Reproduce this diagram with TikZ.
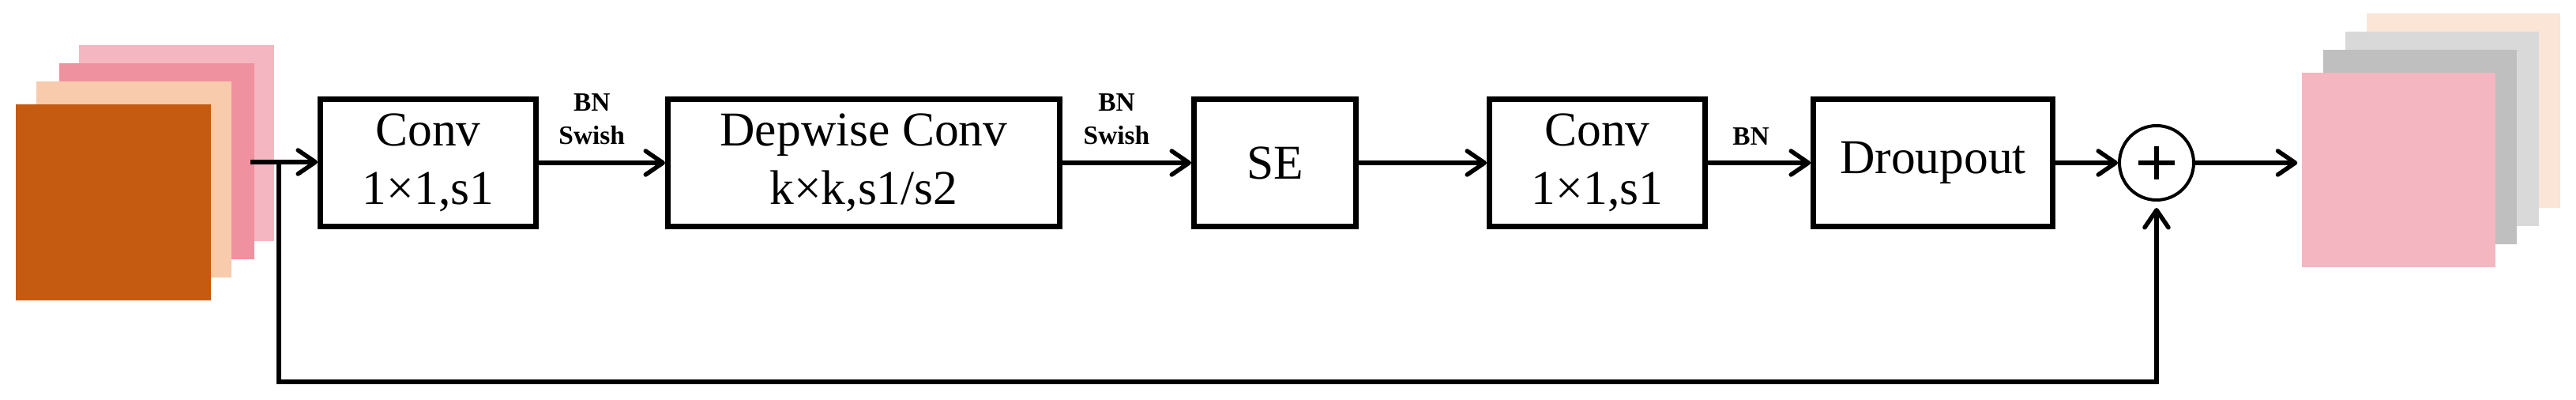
\documentclass[tikz,border=0pt]{standalone}
\usepackage{fontspec}
\setmainfont{Liberation Serif}
\usetikzlibrary{positioning, calc, arrows.meta, shapes}
\definecolor{rust}{HTML}{C55A11}
\definecolor{peach}{HTML}{F8CBAD}
\definecolor{rosemid}{HTML}{F0919F}
\definecolor{roselight}{HTML}{F4B6C0}
\definecolor{greymid}{HTML}{BFBFBF}
\definecolor{greylight}{HTML}{D9D9D9}
\definecolor{peachlight}{HTML}{FBE5D6}
\tikzset{blk/.style={draw, line width=0.07cm, outer sep=0.035cm, minimum height=1.61cm, align=center, font=\fontsize{17.5}{21}\selectfont}}
\tikzset{card/.style={fill=#1, inner sep=0, minimum width=2.47cm, minimum height=2.48cm}}
\tikzset{arr/.style={draw, line width=0.055cm, -{Straight Barb[length=0.22cm, width=0.3cm, round]}}}
\tikzset{lbl/.style={font=\fontsize{9.5}{12}\selectfont\bfseries, align=center, inner sep=0, above=0.2cm, pos=0.42}}

\begin{document}
\begin{tikzpicture}
				\useasboundingbox (0,0) rectangle (32.61,-5.06);
				% input maps
				\node[card=roselight] (in4) at (2.235,-1.81) {};
				\node[card=rosemid] (in3) at (1.985,-2.04) {};
				\node[card=peach] (in2) at (1.695,-2.27) {};
				\node[card=rust] (in1) at (1.435,-2.56) {};
				%
				\node[blk, minimum width=2.73cm] (conv1) at (5.42,-2.06) {Conv\\1×1,s1};
				\node[blk, minimum width=4.96cm, right=1.6 of conv1] (dw) {Depwise Conv\\k×k,s1/s2};
				\node[blk, minimum width=2.05cm, right=1.63 of dw] (se) {SE};
				\node[blk, minimum width=2.73cm, right=1.62 of se] (conv2) {Conv\\1×1,s1};
				\node[blk, minimum width=3.03cm, right=1.3 of conv2] (drop) {Droupout};
				\node[circle, draw, line width=0.04cm, outer sep=0.02cm, minimum size=0.94cm, right=0.79 of drop] (plus) {};
				\draw[line width=0.06cm] ($(plus)+(-0.23,0)$) -- ($(plus)+(0.23,0)$) ($(plus)+(0,-0.21)$) -- ($(plus)+(0,0.21)$);
				% output maps
				\node[card=peachlight, minimum width=2.45cm, minimum height=2.46cm] (out4) at (31.185,-1.40) {};
				\node[card=greylight, minimum width=2.45cm, minimum height=2.46cm] (out3) at (30.915,-1.635) {};
				\node[card=greymid, minimum width=2.45cm, minimum height=2.46cm] (out2) at (30.63,-1.865) {};
				\node[card=roselight, minimum width=2.45cm, minimum height=2.46cm] (out1) at (30.365,-2.15) {};
				%
				\coordinate (src) at (3.17,-2.05);
				\coordinate (tap) at (3.53,-2.05);
				\coordinate (low) at (3.53,-4.83);
				\draw[arr] (src) -- (src -| conv1.west);
				\draw[arr] (conv1) -- node[lbl]{BN\\Swish} (dw);
				\draw[arr] (dw) -- node[lbl]{BN\\Swish} (se);
				\draw[arr] (se) -- (conv2);
				\draw[arr] (conv2) -- node[lbl]{BN} (drop);
				\draw[arr] (drop) -- (plus);
				\draw[arr, shorten >=0.05cm] (plus) -- (plus -| out1.west);
				\draw[arr, shorten >=0.08cm] (tap) -- (low) -| (plus);
			\end{tikzpicture}
\end{document}
